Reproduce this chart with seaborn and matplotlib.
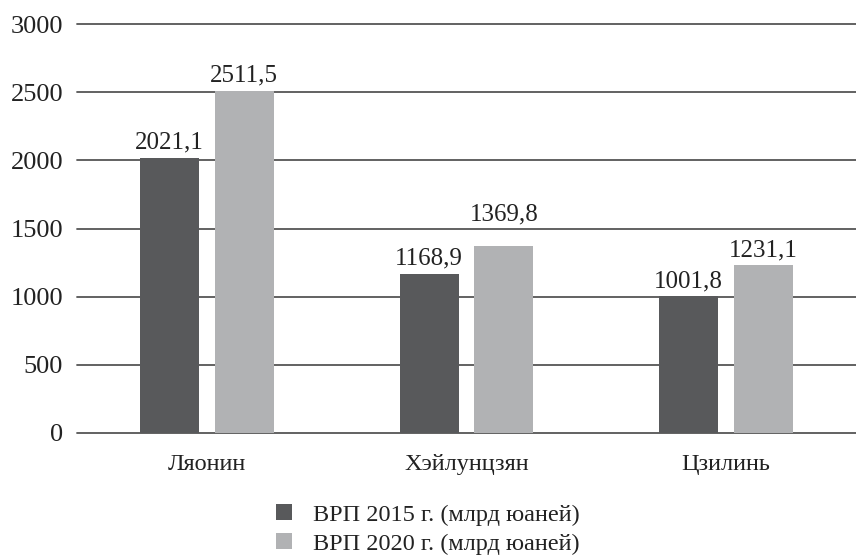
import matplotlib

matplotlib.use("Agg")
import matplotlib.pyplot as plt
import pandas as pd
import seaborn as sns

regions = ["Ляонин", "Хэйлунцзян", "Цзилинь"]
series = ["ВРП 2015 г. (млрд юаней)", "ВРП 2020 г. (млрд юаней)"]
grp_2015 = [2021.1, 1168.9, 1001.8]
grp_2020 = [2511.5, 1369.8, 1231.1]
y_ticks = [0, 500, 1000, 1500, 2000, 2500, 3000]

df = pd.DataFrame({
    "region": regions * 2,
    "series": [series[0]] * 3 + [series[1]] * 3,
    "value": grp_2015 + grp_2020,
})

sns.set_theme(style="white")
plt.rcParams["font.family"] = ["Liberation Serif", "DejaVu Serif"]
TXT = "#222222"

fig = plt.figure(figsize=(8.56, 5.6), dpi=100)
ax = fig.add_axes([0.09, 0.2268, 0.91, 0.7302])

sns.barplot(
    data=df, x="region", y="value", hue="series", order=regions, hue_order=series,
    palette=["#58595b", "#b1b2b4"], width=0.577, gap=0.213, saturation=1,
    errorbar=None, linewidth=0, ax=ax, zorder=3,
)

# value labels; lift a label above a grid line it would otherwise sit on
for cont in ax.containers:
    for bar in cont:
        v = bar.get_height()
        y = v
        for t in y_ticks:
            if v < t < v + 180:
                y = t
        ax.annotate(f"{v:.1f}".replace(".", ","),
                    (bar.get_x() + bar.get_width() / 2, y),
                    xytext=(0, 3 if y == v else 2), textcoords="offset points",
                    ha="center", va="bottom", fontsize=18, color=TXT)

ax.set_ylim(0, 3000)
ax.set_xlim(-0.5, 2.5)
ax.set_yticks(y_ticks)
ax.yaxis.grid(True, color="#555555", linewidth=1.3, zorder=0)
for g in ax.get_ygridlines():
    g.set_clip_on(False)
for s in ax.spines.values():
    s.set_visible(False)
ax.tick_params(axis="y", length=0, pad=10, labelsize=19, labelcolor=TXT)
ax.tick_params(axis="x", length=0, pad=15, labelsize=17.5, labelcolor=TXT)
ax.set_xlabel("")
ax.set_ylabel("")

handles, labels = ax.get_legend_handles_labels()
ax.get_legend().remove()
fig.legend(handles, labels, loc="upper center", bbox_to_anchor=(0.5, 0.139),
           frameon=False, fontsize=17.5, handlelength=0.65, handleheight=0.65,
           handletextpad=0.9, labelspacing=0.3, labelcolor=TXT)

fig.savefig("out.png", dpi=100)
